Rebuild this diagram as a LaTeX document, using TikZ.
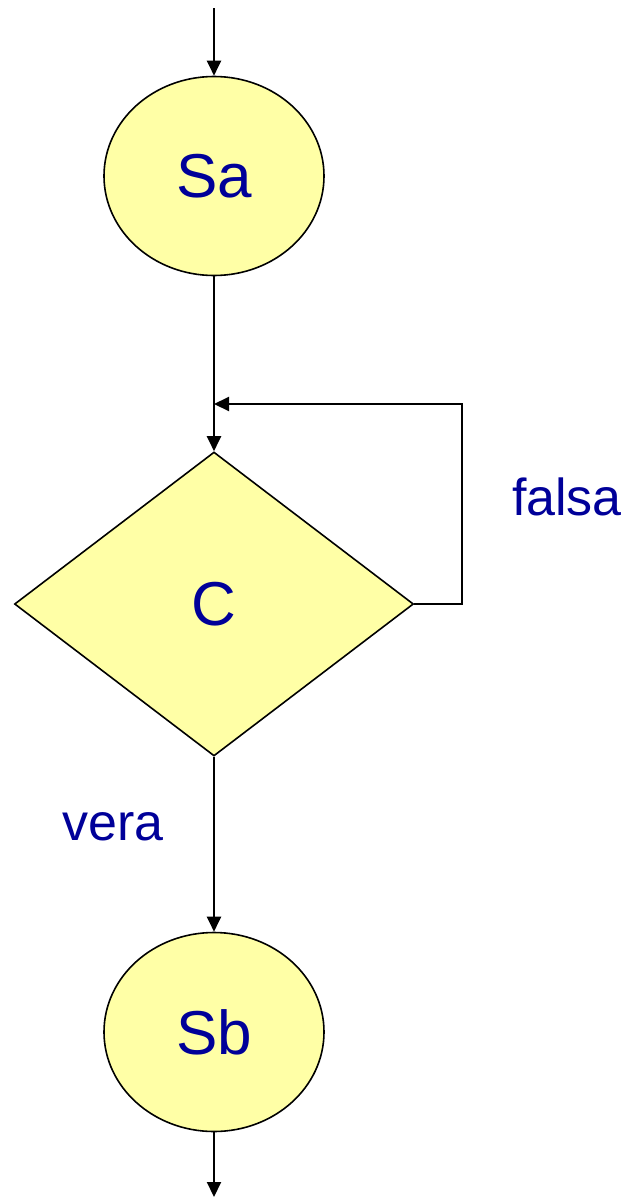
\documentclass[tikz,border=0pt]{standalone}
\usepackage{fontspec}
\setmainfont{Liberation Sans}
\usetikzlibrary{arrows.meta,shapes.geometric}
\definecolor{boxfill}{HTML}{FFFFA6}
\definecolor{txtblue}{HTML}{000099}
\tikzset{
  flow/.style={line width=2pt,-{Triangle[width=14pt,length=15pt]}},
  plain/.style={line width=2pt},
  statebox/.style={ellipse,draw,line width=1.6pt,fill=boxfill,minimum width=220pt,minimum height=199pt,inner sep=0pt,text=txtblue,font=\fontsize{62}{70}\selectfont},
  condbox/.style={diamond,draw,line width=1.6pt,fill=boxfill,minimum width=399pt,minimum height=304pt,inner sep=0pt,text=txtblue,font=\fontsize{62}{70}\selectfont},
  lbl/.style={text=txtblue,font=\fontsize{52}{60}\selectfont,inner sep=0pt}
}
\begin{document}
\begin{tikzpicture}[x=1pt,y=-1pt]
\useasboundingbox (0,0) rectangle (632,1197);
\node[statebox] (sa) at (214,176) {\raisebox{-3pt}{Sa}};
\node[condbox] (c) at (214,604) {\raisebox{-3pt}{C}};
\node[statebox] (sb) at (214,1032) {\raisebox{-3pt}{Sb}};
\coordinate (top) at (214,8);
\coordinate (bot) at (214,1197);
\coordinate (join) at (214,404);
\coordinate (r1) at (462,604);
\coordinate (r2) at (462,404);
\draw[flow] (top) -- (sa.north);
\draw[plain] (sa.south) -- (join);
\draw[flow] (join) -- (c.north);
\draw[flow] (c.east) -- (r1) -- (r2) -- (join);
\draw[flow] (c.south) -- (sb.north);
\draw[flow] (sb.south) -- (bot);
\node[lbl] (falsa) at (567,497) {falsa};
\node[lbl] (vera) at (113,827) {vera};
\end{tikzpicture}
\end{document}
